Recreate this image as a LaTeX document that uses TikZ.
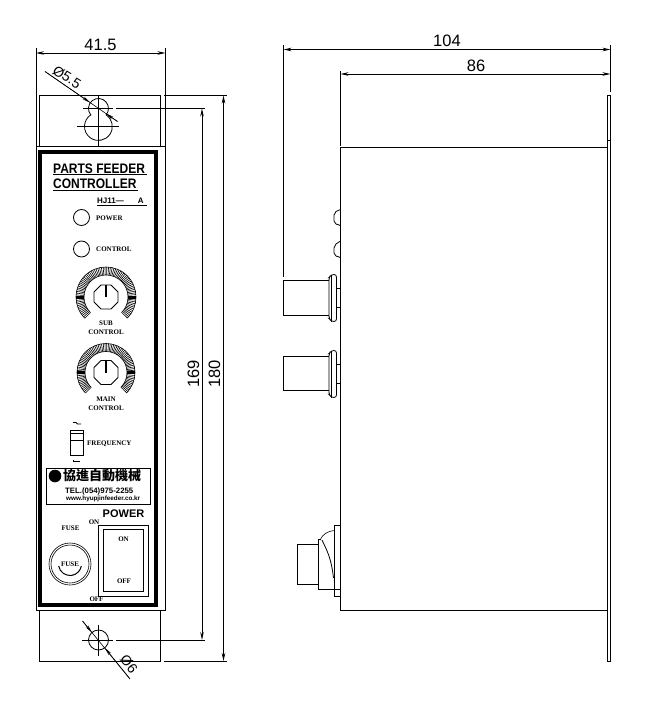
\documentclass[tikz,border=0pt]{standalone}
\usepackage{fontspec}
\setmainfont{Liberation Sans}
\newfontfamily\serifbold{Liberation Serif}
\newfontfamily\cjkfont{Noto Sans CJK TC}
\usepackage{tikz}
\usetikzlibrary{arrows.meta,positioning,calc}
\newcommand{\tallbox}[1]{\scalebox{1}[1.15]{#1}}
\tikzset{
    outline/.style={line width=0.8pt},
    thinline/.style={line width=0.6pt},
    dimline/.style={line width=0.8pt,{Stealth[length=8pt,width=3.5pt]}-{Stealth[length=8pt,width=3.5pt]}},
    dimtext/.style={font=\fontsize{16.5}{17}\selectfont,inner sep=0pt},
    diatext/.style={font=\fontsize{14}{15}\selectfont,inner sep=0pt},
    labelsmall/.style={font=\fontsize{7}{7}\serifbold\bfseries,inner sep=0pt},
    labeltitle/.style={font=\fontsize{12}{13}\bfseries\selectfont,inner sep=0pt,anchor=west},
}
\begin{document}
\begin{tikzpicture}[x=1pt,y=-1pt]
    \useasboundingbox (0,0) rectangle (645,714);

    % Front view: brackets and case
    \draw[outline] (39.5,146.5) -- (39.5,95.5) -- (160,95.5) -- (160,146.5);
    \draw[outline] (39.5,610.5) -- (39.5,661) -- (160,661) -- (160,610.5);
    \draw[outline] (36,146.5) rectangle (165.5,610.5);
    \draw[line width=4pt] (40,152) rectangle (156,605);

    % Keyhole and hole
    \draw[outline] (90.8,114.9) arc[start angle=140,end angle=400,radius=10]
        arc[start angle=-56.4,end angle=236.4,radius=13.92] -- cycle;
    \draw[thinline] (83,108.5) -- (113,108.5);
    \draw[thinline] (77,126.5) -- (119,126.5);
    \draw[thinline] (98.5,95) -- (98.5,147);
    \draw[outline] (98.5,640) circle[radius=10];
    \draw[thinline] (82,640) -- (113,640);
    \draw[thinline] (98.5,625) -- (98.5,656);

    % Dimensions of the front view
    \coordinate (wleft) at (36,53);
    \coordinate (wright) at (165.5,53);
    \draw[thinline] (36,48) -- (36,146);
    \draw[thinline] (165.5,48) -- (165.5,146);
    \draw[dimline] (wleft) -- (wright);
    \node[dimtext] (dimwidth) at (100.5,44.5) {41.5};

    \draw[thinline] (116,108.5) -- (205,108.5);
    \draw[thinline] (116,640) -- (205,640);
    \draw[thinline] (164,95.5) -- (227,95.5);
    \draw[thinline] (164,661) -- (227,661);
    \coordinate (holetop) at (202,108.5);
    \coordinate (holebot) at (202,640);
    \coordinate (alltop) at (223.5,95.5);
    \coordinate (allbot) at (223.5,661);
    \draw[dimline] (holetop) -- (holebot);
    \draw[dimline] (alltop) -- (allbot);
    \node[dimtext,rotate=90] (dimholes) at (193.5,374) {169};
    \node[dimtext,rotate=90] (dimtotal) at (214.5,374) {180};

    % Hole leaders
    \coordinate (leadA) at (45,71.5);
    \coordinate (leadB) at (117.5,121.5);
    \draw[thinline] (leadA) -- (leadB);
    \draw[-{Stealth[length=8pt,width=3pt]},thinline] (leadA) -- (90,102.5);
    \draw[-{Stealth[length=8pt,width=3pt]},thinline] (leadB) -- (106,113.5);
    \node[diatext,rotate=-32] (diatop) at (67,77) {Ø5.5};
    \coordinate (leadC) at (82.5,621);
    \coordinate (leadD) at (130,679);
    \draw[thinline] (leadC) -- (leadD);
    \draw[-{Stealth[length=8pt,width=3pt]},thinline] (leadC) -- (92,632.5);
    \draw[-{Stealth[length=8pt,width=3pt]},thinline] (leadD) -- (105,648);
    \node[diatext,rotate=-52] (diabot) at (129,664) {Ø6};

    % Panel titles
    \node[labeltitle] (title) at (53,168.5) {\tallbox{PARTS FEEDER}};
    \node[labeltitle] (subtitle) at (53,184) {\tallbox{CONTROLLER}};
    \draw[outline] (53,174.5) -- (147,174.5);
    \draw[outline] (53,190.5) -- (138,190.5);
    \node[font=\fontsize{8}{8}\bfseries\selectfont,inner sep=0pt,anchor=west] (model) at (97,201) {HJ11---\hspace{14pt}A};
    \draw[thinline] (97,205.5) -- (147,205.5);

    % Lamps
    \draw[outline] (81.5,217.5) circle[radius=8];
    \draw[outline] (81.5,249) circle[radius=8];
    \node[labelsmall,anchor=west] (lampone) at (96,218) {POWER};
    \node[labelsmall,anchor=west] (lamptwo) at (96,249.5) {CONTROL};

    % Knobs with their scales
    \foreach \cy/\rout in {297/30,372.5/29}{
        \draw[thinline] (106,\cy)+(135:\rout) arc[start angle=135,end angle=405,radius=\rout];
        \draw[thinline] (106,\cy)+(135:\rout-8) arc[start angle=135,end angle=405,radius=\rout-8];
        \foreach \a in {135,138.5,...,405}
            \draw[thinline] (106,\cy)+(\a:\rout-8) -- +(\a:\rout);
        \foreach \a in {0,180}
            \draw[line width=3pt] (106,\cy)+(\a:\rout-8) -- +(\a:\rout);
        \draw[outline] (106,\cy)+(22.5:13) \foreach \a in {67.5,112.5,...,382.5}{ -- +(\a:13)};
        \draw[line width=1.2pt] (106,\cy) -- +(0,-12.5);
    }
    \node[labelsmall] (subone) at (106,323.5) {SUB};
    \node[labelsmall] (subtwo) at (106,332.5) {CONTROL};
    \node[labelsmall] (mainone) at (106,399.5) {MAIN};
    \node[labelsmall] (maintwo) at (106,408.5) {CONTROL};

    % Frequency switch
    \draw[outline] (70,430) rectangle (83,455);
    \draw[outline] (70,433) -- (83,433);
    \draw[outline] (70,440.5) -- (83,440.5);
    \draw[outline] (73,422.5) -- (76,422.5) -- (77.5,424) -- (81,424);
    \draw[thinline] (73,460) -- (73,461.5) -- (80,461.5);
    \node[labelsmall,anchor=west] (freq) at (87,443.5) {FREQUENCY};

    % Maker plate
    \draw[outline] (46,468.5) rectangle (150.5,504);
    \fill (55,476) circle[radius=6.3];
    \node[font=\fontsize{13}{13}\cjkfont\bfseries,inner sep=0pt,anchor=west] (maker) at (63,476) {協進自動機械};
    \node[font=\fontsize{7.8}{9}\bfseries\selectfont,inner sep=0pt,anchor=west] (phone) at (65,491) {TEL.(054)975-2255};
    \node[font=\fontsize{6.3}{7}\bfseries\selectfont,inner sep=0pt,anchor=west] (web) at (66,499) {www.hyupjinfeeder.co.kr};

    % Power switch and fuse
    \node[font=\fontsize{11}{11}\bfseries\selectfont,inner sep=0pt] (power) at (123.5,513.5) {POWER};
    \node[labelsmall] (swon) at (94,522.5) {ON};
    \node[labelsmall] (swoff) at (96.5,599) {OFF};
    \draw[outline] (98.5,525.5) rectangle (148.5,596.5);
    \draw[outline] (103.5,529.5) rectangle (143.5,591.5);
    \node[labelsmall] (on) at (123.5,539) {ON};
    \node[labelsmall] (off) at (124,581) {OFF};
    \node[labelsmall] (fusetop) at (70.5,528) {FUSE};
    \draw[thinline] (70,564) circle[radius=21];
    \draw[thinline] (70,564) circle[radius=19];
    \draw[line width=1pt] (70,564)+(170:11.5) arc[start angle=170,end angle=10,radius=11.5];
    \node[labelsmall] (fuse) at (70,564) {FUSE};

    % Side view: case and plate
    \draw[outline] (340.5,147) -- (340.5,610.5);
    \draw[outline] (340.5,147) -- (607,147);
    \draw[outline] (340.5,610.5) -- (607,610.5);
    \draw[outline] (607,95) rectangle (610.5,661);
    \draw[outline] (607,140) -- (610.5,140);

    % Lamps seen from the side
    \draw[outline] (340.5,209.5) -- (336,211.5) -- (334,215) -- (334,221) -- (336,224) -- (340.5,225.5);
    \draw[outline] (340.5,241) -- (336,244) -- (334,248) -- (334,253) -- (336,256) -- (340.5,257.5);

    % Knobs seen from the side
    \foreach \ytop/\ybot/\yfa/\yfb/\yta/\ytb in {280/315.5/274.5/321.5/288.5/307.5,356/390.5/350.5/397.5/364.5/383.5}{
        \draw[outline] (329,\ytop) -- (283.5,\ytop) -- (283.5,\ybot) -- (329,\ybot);
        \draw[outline,rounded corners=2.5pt] (336.5,\yfa) -- (331.5,\yfa) -- (329,\yfa+3) -- (329,\yfb-3) -- (331.5,\yfb) -- (336.5,\yfb) -- cycle;
        \draw[thinline] (331.5,\yfa) -- (331.5,\yfb);
        \draw[outline] (336.5,\yta) -- (340.5,\yta);
        \draw[outline] (336.5,\ytb) -- (340.5,\ytb);
    }

    % Power switch seen from the side
    \draw[outline] (318.5,544.5) -- (297.5,544.5) -- (297.5,584) -- (318.5,584);
    \draw[outline] (334.5,589.5) -- (318.5,589.5) -- (318.5,539.5) -- (321,539.5);
    \draw[outline] (334.5,525) rectangle (340.5,596.5);
    \draw[outline] (334.5,589.5) -- (340.5,589.5);
    \draw[thinline] (320,540) .. controls (323,534) and (327,531.5) .. (334.5,530.5);
    \draw[outline] (322,540) .. controls (326,549) and (331,556) .. (333.5,578);

    % Dimensions of the side view
    \draw[thinline] (283.5,45) -- (283.5,277);
    \draw[thinline] (340.5,71) -- (340.5,146);
    \draw[thinline] (610.5,45) -- (610.5,92);
    \coordinate (depthA) at (283.5,49.5);
    \coordinate (depthB) at (610.5,49.5);
    \coordinate (bodyA) at (340.5,74);
    \coordinate (bodyB) at (610.5,74);
    \draw[dimline] (depthA) -- (depthB);
    \draw[dimline] (bodyA) -- (bodyB);
    \node[dimtext] (dimdepth) at (447,41) {104};
    \node[dimtext] (dimbody) at (476,66) {86};
\end{tikzpicture}
\end{document}
